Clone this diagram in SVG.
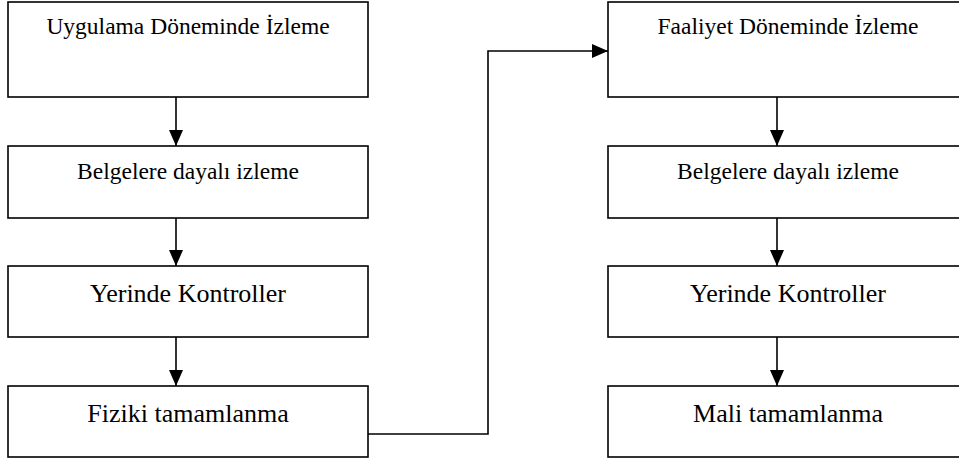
<svg xmlns="http://www.w3.org/2000/svg" width="959" height="464" viewBox="0 0 959 464">
  <style>
    .box { fill: #ffffff; stroke: #000000; stroke-width: 1.6; }
    .edge { fill: none; stroke: #000000; stroke-width: 1.6; }
  </style>
  <defs>
    <marker id="arrow" markerUnits="userSpaceOnUse" markerWidth="16" markerHeight="14" refX="16" refY="7" orient="auto">
      <path d="M0,0 L16,7 L0,14 Z" fill="#000000"/>
    </marker>
  </defs>
  <rect width="959" height="464" fill="#ffffff"/>

  <g font-family="'Liberation Serif', 'Times New Roman', 'DejaVu Serif', serif" fill="#000000" text-anchor="middle">
    <!-- left column -->
    <g id="uygulama">
      <rect class="box" x="8" y="2" width="360" height="95"/>
      <text font-size="23.5" x="188" y="34">Uygulama Döneminde İzleme</text>
    </g>
    <g id="belge-left">
      <rect class="box" x="8" y="146" width="360" height="72"/>
      <text font-size="23.5" x="188" y="179">Belgelere dayalı izleme</text>
    </g>
    <g id="yerinde-left">
      <rect class="box" x="8" y="266" width="360" height="71"/>
      <text font-size="26" x="188" y="302">Yerinde Kontroller</text>
    </g>
    <g id="fiziki">
      <rect class="box" x="8" y="386" width="360" height="71"/>
      <text font-size="26" x="188" y="422">Fiziki tamamlanma</text>
    </g>

    <!-- right column -->
    <g id="faaliyet">
      <rect class="box" x="608" y="2" width="360" height="95"/>
      <text font-size="23.5" x="788" y="34">Faaliyet Döneminde İzleme</text>
    </g>
    <g id="belge-right">
      <rect class="box" x="608" y="146" width="360" height="72"/>
      <text font-size="23.5" x="788" y="179">Belgelere dayalı izleme</text>
    </g>
    <g id="yerinde-right">
      <rect class="box" x="608" y="266" width="360" height="71"/>
      <text font-size="26" x="788" y="302">Yerinde Kontroller</text>
    </g>
    <g id="mali">
      <rect class="box" x="608" y="386" width="360" height="71"/>
      <text font-size="26" x="788" y="422">Mali tamamlanma</text>
    </g>
  </g>

  <!-- connectors -->
  <g id="connectors">
    <line class="edge" x1="176" y1="97" x2="176" y2="146" marker-end="url(#arrow)"/>
    <line class="edge" x1="176" y1="218" x2="176" y2="266" marker-end="url(#arrow)"/>
    <line class="edge" x1="176" y1="337" x2="176" y2="386" marker-end="url(#arrow)"/>
    <polyline class="edge" points="368,434 488,434 488,51 608,51" marker-end="url(#arrow)"/>
    <line class="edge" x1="777" y1="97" x2="777" y2="146" marker-end="url(#arrow)"/>
    <line class="edge" x1="777" y1="218" x2="777" y2="266" marker-end="url(#arrow)"/>
    <line class="edge" x1="777" y1="337" x2="777" y2="386" marker-end="url(#arrow)"/>
  </g>
</svg>
